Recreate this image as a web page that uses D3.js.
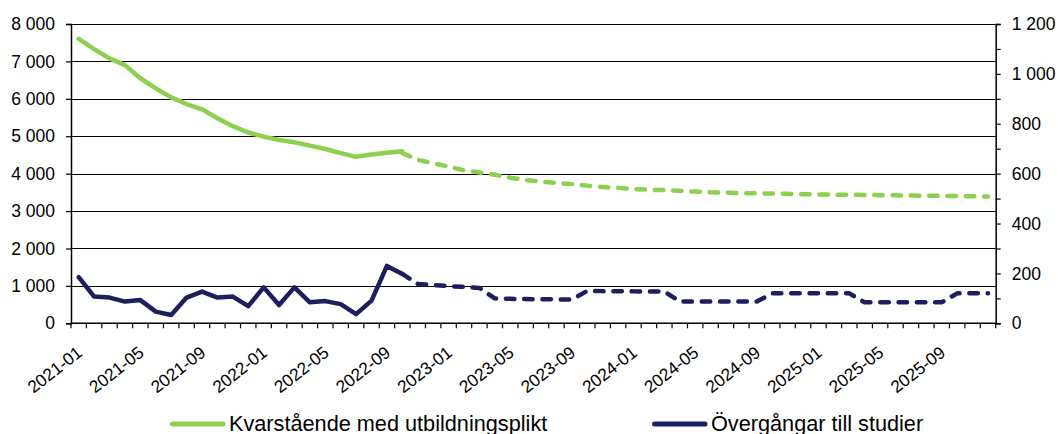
<!DOCTYPE html>
<html>
<head>
<meta charset="utf-8">
<script src="https://cdn.jsdelivr.net/npm/d3@7"></script>
<style>
	body { margin: 0; background: #fff; }
	text { font-family: "Liberation Sans", Arial, sans-serif; fill: #000; }
</style>
</head>
<body>
<div id="chart"></div>
<script>

// months 2021-01 .. 2025-12
const months = d3.timeMonth.range(new Date(2021, 0, 1), new Date(2026, 0, 1)).map(d3.timeFormat("%Y-%m"));

// Kvarstående med utbildningsplikt (left axis), outcome 2021-01..2022-10
const kvarActual = [7600, 7330, 7080, 6900, 6550, 6280, 6040, 5860, 5720, 5480, 5270, 5100,
	4990, 4900, 4840, 4750, 4660, 4550, 4450, 4510, 4560, 4600];
// forecast 2022-10..2025-12
const kvarForecast = [4550, 4370, 4280, 4190, 4090, 4030, 3970, 3890, 3830, 3790, 3750, 3720,
	3680, 3640, 3620, 3590, 3570, 3560, 3540, 3520, 3500, 3490, 3480, 3475, 3470, 3460, 3450,
	3445, 3440, 3435, 3430, 3425, 3420, 3415, 3410, 3405, 3400, 3395, 3390];

// Övergångar till studier (right axis)
const overActual = [185, 107, 103, 87, 93, 47, 33, 103, 127, 103, 107, 69,
	144, 73, 144, 84, 89, 77, 37, 91, 230, 198];
const overForecast = [198, 158, 153, 149, 146, 142, 100, 98, 97, 96, 96, 95,
	130, 129, 129, 128, 128, 128, 87, 87, 87, 87, 87, 87, 120, 120, 120, 120, 120, 120,
	84, 84, 84, 84, 84, 84, 120, 120, 120];

const forecastStart = 21; // index of 2022-10

const leftTicks = [0, 1000, 2000, 3000, 4000, 5000, 6000, 7000, 8000];
const rightTicks = [0, 100, 200, 300, 400, 500, 600, 700, 800, 900, 1000, 1100, 1200];
const labelEvery = 4;

const seriesNames = ["Kvarstående med utbildningsplikt", "Övergångar till studier"];
const colors = ["#8dcf4f", "#1e1e5c"];

const W = 1061, H = 434;
const margin = {top: 24, right: 65.3, bottom: 110.7, left: 71};
const innerW = W - margin.left - margin.right;
const innerH = H - margin.top - margin.bottom;

const fmt = d3.formatLocale({decimal: ",", thousands: " ", grouping: [3], currency: ["", " kr"]}).format(",d");

const svg = d3.select("#chart").append("svg")
	.attr("width", W)
	.attr("height", H);

const g = svg.append("g")
	.attr("transform", `translate(${margin.left},${margin.top})`);

// scales
const x = d3.scaleBand()
	.domain(months)
	.range([0, innerW])
	.padding(0);
const cx = d => x(d) + x.bandwidth() / 2;

const yL = d3.scaleLinear().domain([0, 8000]).range([innerH, 0]);
const yR = d3.scaleLinear().domain([0, 1200]).range([innerH, 0]);

// gridlines
g.append("g")
	.selectAll("line")
	.data(leftTicks.filter(d => d > 0))
	.enter().append("line")
	.attr("x1", 0)
	.attr("x2", innerW)
	.attr("y1", d => Math.round(yL(d)) + 0.5)
	.attr("y2", d => Math.round(yL(d)) + 0.5)
	.attr("stroke", "#000")
	.attr("stroke-width", 1.2);

// left axis
const leftAxis = g.append("g")
	.call(d3.axisLeft(yL).tickValues(leftTicks).tickFormat(fmt).tickSize(5).tickPadding(11));

// right axis
const rightAxis = g.append("g")
	.attr("transform", `translate(${innerW},0)`)
	.call(d3.axisRight(yR).tickValues(rightTicks)
		.tickFormat(d => d % 200 === 0 ? fmt(d) : "")
		.tickSize(5).tickPadding(11));

// bottom axis with ticks at band edges
const bottom = g.append("g")
	.attr("transform", `translate(0,${innerH})`);
bottom.append("line")
	.attr("x1", 0).attr("x2", innerW)
	.attr("stroke", "#000").attr("stroke-width", 1.5);
bottom.selectAll(".tick-mark")
	.data(months.concat(["end"]))
	.enter().append("line")
	.attr("class", "tick-mark")
	.attr("x1", (d, i) => i * x.bandwidth())
	.attr("x2", (d, i) => i * x.bandwidth())
	.attr("y1", 0).attr("y2", 5)
	.attr("stroke", "#000").attr("stroke-width", 1.2);
bottom.selectAll(".xlab")
	.data(months.filter((d, i) => i % labelEvery === 0))
	.enter().append("text")
	.attr("class", "xlab")
	.attr("transform", d => `translate(${cx(d) + 1},${26.7}) rotate(-38)`)
	.attr("text-anchor", "end")
	.attr("dy", "0.35em")
	.style("font-size", "17.3px")
	.text(d => d);

[leftAxis, rightAxis].forEach(a => {
	a.select(".domain").attr("stroke", "#000").attr("stroke-width", 1.5);
	a.selectAll(".tick line").attr("stroke", "#000").attr("stroke-width", 1.2);
	a.selectAll("text").style("font-size", "17.5px").attr("fill", "#000");
});

// lines
const lineL = d3.line().x(d => cx(d.m)).y(d => yL(d.v));
const lineR = d3.line().x(d => cx(d.m)).y(d => yR(d.v));

const toPts = (vals, offset) => vals.map((v, i) => ({m: months[i + offset], v: v}));

const drawn = [
	{pts: toPts(kvarForecast, forecastStart), line: lineL, color: colors[0], dash: "8.5,9.8"},
	{pts: toPts(overForecast, forecastStart), line: lineR, color: colors[1], dash: "8.5,9.8"},
	{pts: toPts(kvarActual, 0), line: lineL, color: colors[0], dash: null},
	{pts: toPts(overActual, 0), line: lineR, color: colors[1], dash: null}
];

g.selectAll(".series")
	.data(drawn)
	.enter().append("path")
	.attr("class", "series")
	.attr("d", d => d.line(d.pts))
	.attr("fill", "none")
	.attr("stroke", d => d.color)
	.attr("stroke-width", 4.5)
	.attr("stroke-linejoin", "round")
	.attr("stroke-linecap", "round")
	.attr("stroke-dasharray", d => d.dash);

// legend
const legendPos = [170, 652];
const legend = svg.append("g").attr("class", "legend");
const items = legend.selectAll("g")
	.data(seriesNames)
	.enter().append("g")
	.attr("transform", (d, i) => `translate(${legendPos[i]},424)`);
items.append("line")
	.attr("x1", 2.5).attr("x2", 53)
	.attr("stroke", (d, i) => colors[i])
	.attr("stroke-width", 5)
	.attr("stroke-linecap", "round");
items.append("text")
	.attr("x", 59)
	.attr("y", 6.5)
	.style("font-size", "21.7px")
	.text(d => d);

</script>
</body>
</html>
